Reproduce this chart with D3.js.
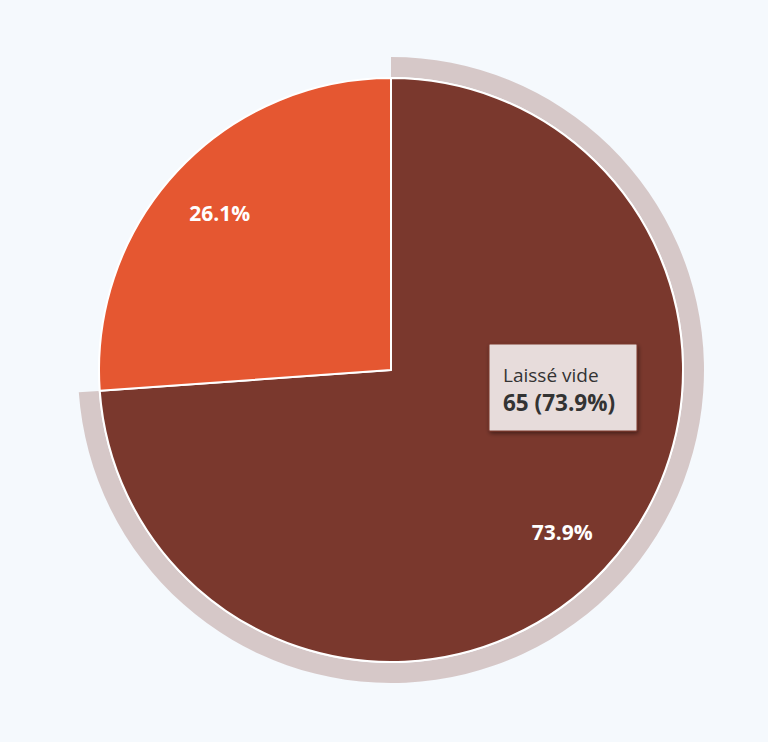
<!DOCTYPE html>
<html>
<head>
<meta charset="utf-8">
<script src="https://cdn.jsdelivr.net/npm/d3@7/dist/d3.min.js"></script>
<style>
  html, body { margin: 0; padding: 0; background: #f5f9fd; }
  svg { display: block; font-family: "Open Sans", "Noto Sans", sans-serif; }
</style>
</head>
<body>
<svg id="chart" width="768" height="742"></svg>
<script>
const categories = ["Laissé vide", "Rempli"];
const values = [65, 23];
const colors = ["#7a382d", "#e55731"];
const highlighted = "Laissé vide";

const W = 768, H = 742;
const cx = 391, cy = 370, R = 292;
const svg = d3.select("#chart");
svg.append("rect").attr("width", W).attr("height", H).attr("fill", "#f5f9fd");

const data = categories.map((c, i) => ({ name: c, value: values[i], color: colors[i] }));
const total = d3.sum(values);
const pie = d3.pie().value(d => d.value).sort(null);
const arcs = pie(data);
const arc = d3.arc().innerRadius(0).outerRadius(R);
const haloArc = d3.arc().innerRadius(R + 1).outerRadius(R + 21);
const labelArc = d3.arc().innerRadius(234).outerRadius(234);

const g = svg.append("g").attr("transform", `translate(${cx},${cy})`);

g.selectAll("path.halo").data(arcs.filter(d => d.data.name === highlighted))
  .join("path").attr("class", "halo")
  .attr("d", haloArc).attr("fill", "#7a382d").attr("fill-opacity", 0.25);

g.selectAll("path.slice").data(arcs).join("path").attr("class", "slice")
  .attr("d", arc).attr("fill", d => d.data.color)
  .attr("stroke", "#ffffff").attr("stroke-width", 2).attr("stroke-linejoin", "round");

g.selectAll("text.lbl").data(arcs).join("text").attr("class", "lbl")
  .attr("transform", d => { const c = labelArc.centroid(d); return `translate(${c[0]},${c[1] + 3})`; })
  .attr("text-anchor", "middle").attr("dy", "0.36em")
  .attr("fill", "#ffffff").attr("font-weight", 700).attr("font-size", 21)
  .text(d => (d.value / total * 100).toFixed(1) + "%");

// tooltip
const hd = data.find(d => d.name === highlighted);
const defs = svg.append("defs");
const f = defs.append("filter").attr("id", "sh").attr("x", "-20%").attr("y", "-20%").attr("width", "140%").attr("height", "150%");
f.append("feDropShadow").attr("dx", 1).attr("dy", 2).attr("stdDeviation", 2).attr("flood-color", "#000").attr("flood-opacity", 0.45);
const tt = svg.append("g").attr("transform", "translate(489,344)");
tt.append("rect").attr("width", 148).attr("height", 87).attr("rx", 1)
  .attr("fill", "#e7dcdb").attr("stroke", "#7a382d").attr("stroke-width", 1).attr("filter", "url(#sh)");
tt.append("text").attr("x", 14).attr("y", 38).attr("font-size", 19).attr("fill", "#333333").text(hd.name);
tt.append("text").attr("x", 14).attr("y", 67).attr("font-size", 22.5).attr("font-weight", 700).attr("fill", "#333333")
  .text(`${hd.value} (${(hd.value / total * 100).toFixed(1)}%)`);
</script>
</body>
</html>
